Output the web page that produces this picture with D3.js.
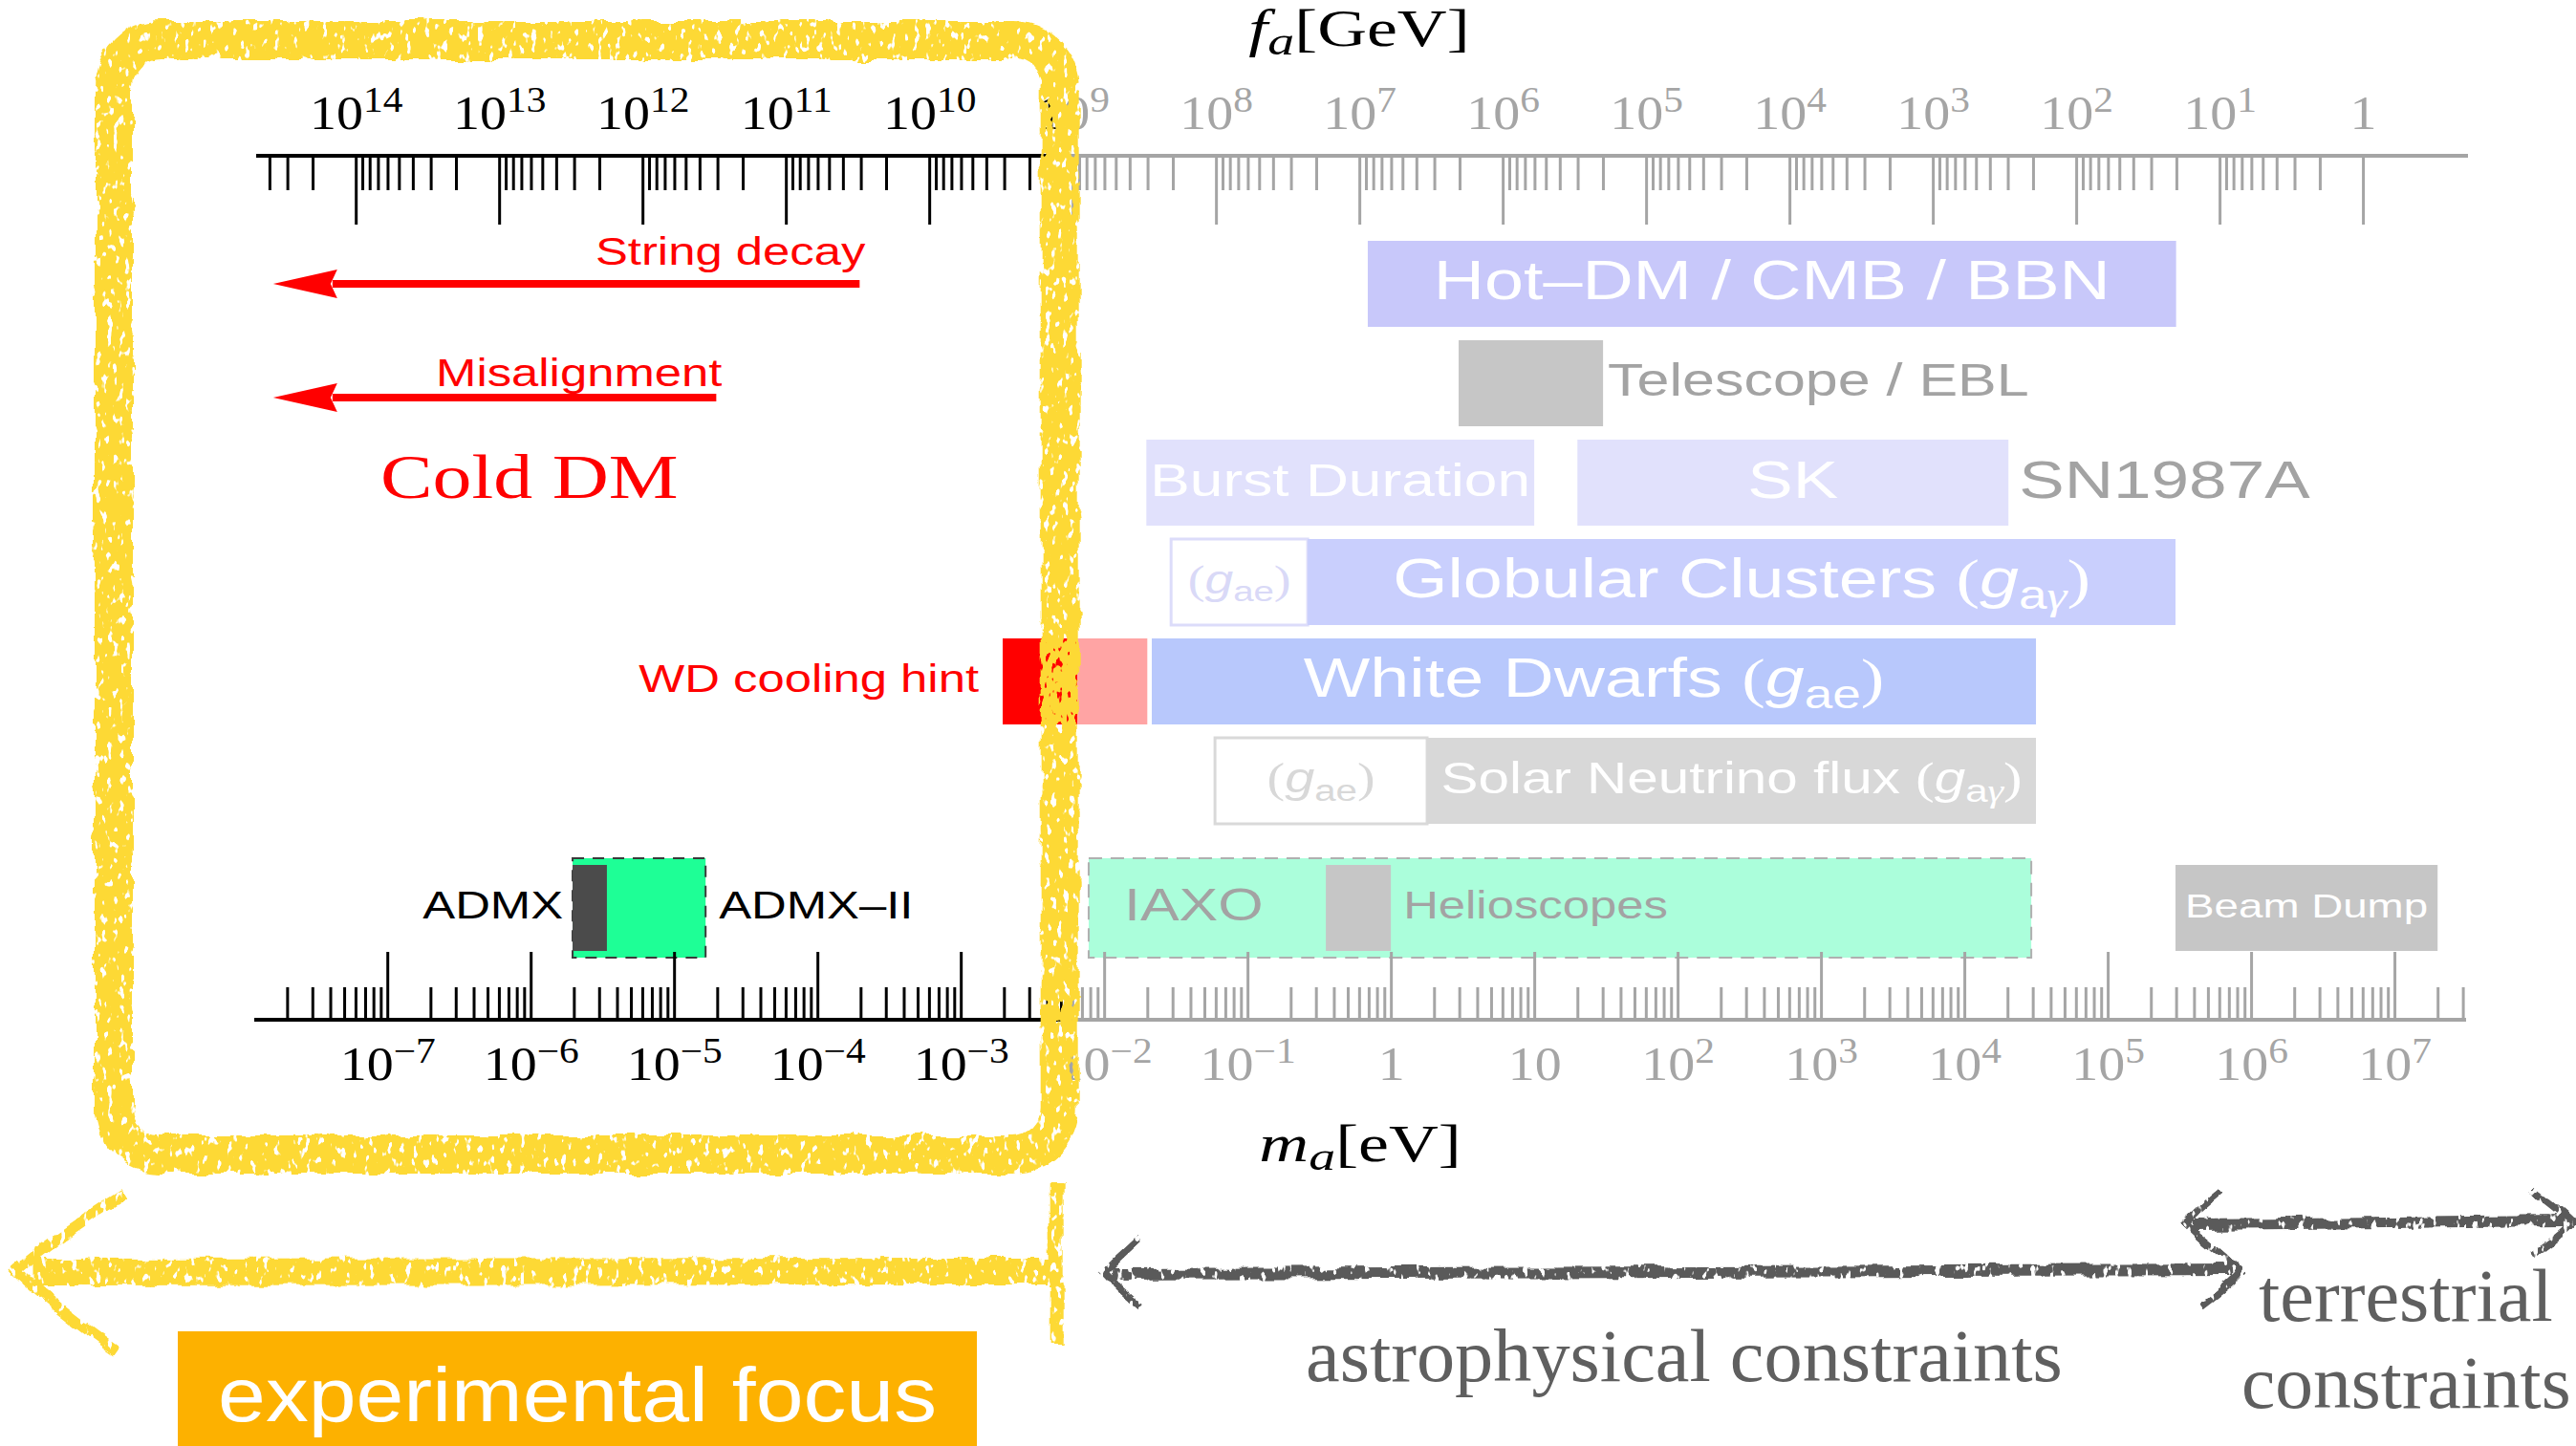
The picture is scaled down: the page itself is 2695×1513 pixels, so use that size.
<!DOCTYPE html>
<html>
<head>
<meta charset="utf-8">
<script src="https://cdn.jsdelivr.net/npm/d3@7"></script>
<style>
  html, body { margin: 0; padding: 0; background: #fff; }
  svg { display: block; }
</style>
</head>
<body>
<script>
const SANS = "'Liberation Sans', Arial, Helvetica, sans-serif";
const SERIF = "'Liberation Serif', 'Times New Roman', serif";
const W = 2695, H = 1513;

// ---------------- data ----------------
// axis extents, left -> right
const faDomain = [4.95e14, 0.185];   // f_a [GeV]
const maDomain = [1.18e-8, 3.16e7];  // m_a [eV]

// decade ticks and labels
const faMajor  = [1e14, 1e13, 1e12, 1e11, 1e10, 1e9, 1e8, 1e7, 1e6, 1e5, 1e4, 1e3, 1e2, 1e1, 1];
const faLabels = ["10^14", "10^13", "10^12", "10^11", "10^10", "10^9", "10^8", "10^7", "10^6",
                  "10^5", "10^4", "10^3", "10^2", "10^1", "1"];
const maMajor  = [1e-7, 1e-6, 1e-5, 1e-4, 1e-3, 1e-2, 1e-1, 1, 1e1, 1e2, 1e3, 1e4, 1e5, 1e6, 1e7];
const maLabels = ["10^−7", "10^−6", "10^−5", "10^−4", "10^−3", "10^−2", "10^−1", "1", "10",
                  "10^2", "10^3", "10^4", "10^5", "10^6", "10^7"];

// constraint rows
const rowNames = ["hot", "tel", "sn", "gc", "wd", "sol"];

// constraint / experiment boxes, mass ranges in eV
const boxNames = ["hotdm", "telescope", "burst", "sk", "gcAe", "gc", "wdHint", "wdHintWeak", "wd",
                  "solarAe", "solar", "admx2", "admx", "iaxo", "helioscopes", "beamdump"];
const boxRows  = ["hot", "tel", "sn", "sn", "gc", "gc", "wd", "wd", "wd",
                  "sol", "sol", "exp", "exp", "exp", "exp", "exp"];
const boxLow   = [0.69, 2.97, 0.0197, 20, 0.0293, 0.263, 1.96e-3, 6.5e-3, 0.0215,
                  0.0593, 1.79, 1.96e-6, 1.96e-6, 7.8e-3, 0.352, 2.97e5];
const boxHigh  = [3.0e5, 30.2, 10, 2.03e4, 0.263, 2.97e5, 6.5e-3, 0.0200, 3.16e4,
                  1.79, 3.16e4, 1.66e-5, 3.4e-6, 2.93e4, 1.0, 2.0e7];
const boxLabels = ["Hot–DM / CMB / BBN", "Telescope / EBL", "Burst Duration", "SK", "(g_ae)",
                   "Globular Clusters (g_aγ)", "", "", "White Dwarfs (g_ae)", "(g_ae)",
                   "Solar Neutrino flux (g_aγ)", "ADMX–II", "ADMX", "IAXO", "Helioscopes", "Beam Dump"];

// cosmological production arrows, m_a in eV
const prodNames = ["String decay", "Misalignment"];
const prodFrom  = [1.97e-4, 1.97e-5];
const prodTo    = [1.6e-8, 1.6e-8];

// regions along the bottom, m_a in eV
const regionNames = ["experimental focus", "astrophysical constraints", "terrestrial constraints"];
const regionLow   = [2.6e-10, 1e-2, 3.5e5];
const regionHigh  = [4.9e-3, 8.6e5, 1.7e8];

// ---------------- styles ----------------
const boxStyle = {
  hotdm:      {fill: "#c8c8fa"},
  telescope:  {fill: "#c6c6c6"},
  burst:      {fill: "#e1e1fc"},
  sk:         {fill: "#e1e1fc"},
  gcAe:       {fill: "#fff", stroke: "#dcdcfa"},
  gc:         {fill: "#c9cffd"},
  wdHint:     {fill: "#ff0000"},
  wdHintWeak: {fill: "#ffa4a4"},
  wd:         {fill: "#b8c8fc"},
  solarAe:    {fill: "#fff", stroke: "#d9d9d9"},
  solar:      {fill: "#d8d8d8"},
  admx2:      {fill: "#1eff96", stroke: "#3a3a3a", dash: "12 9", tall: true},
  admx:       {fill: "#4b4b4b"},
  iaxo:       {fill: "#abfedb", stroke: "#b0b0b0", dash: "14 9", tall: true},
  helioscopes:{fill: "#c6c6c6"},
  beamdump:   {fill: "#c6c6c6"}
};
const labelStyle = {
  hotdm:       {place: "center", size: 58, fill: "#fff"},
  telescope:   {place: "after", gap: 5, size: 48, fill: "#a3a3a3"},
  burst:       {place: "center", size: 49, fill: "#fff"},
  sk:          {place: "center", size: 56, fill: "#fff"},
  gcAe:        {place: "center", size: 42, fill: "#d9d9f7"},
  gc:          {place: "center", size: 58, fill: "#fff"},
  wd:          {place: "center", size: 58, fill: "#fff"},
  solarAe:     {place: "center", size: 44, fill: "#d8d8d8"},
  solar:       {place: "center", size: 46, fill: "#fff"},
  admx2:       {place: "after", gap: 14, size: 40, fill: "#000"},
  admx:        {place: "before", gap: 10, size: 40, fill: "#000"},
  iaxo:        {place: "inside", gap: 37, size: 48, fill: "#a3a3a3"},
  helioscopes: {place: "after", gap: 13, size: 40, fill: "#a3a3a3"},
  beamdump:    {place: "center", size: 36, fill: "#fff"}
};
const LABEL_K = 1.27;     // horizontal stretch of the chart lettering
const GRAY = "#a5a5a5";
const SPLIT_X = 1112;     // where the axes change from black to grey

// ---------------- scales ----------------
const faScale = d3.scaleLog().domain(faDomain).range([268, 2582]);
const maScale = d3.scaleLog().domain(maDomain).range([266, 2580]);

const rowBand = d3.scaleBand().domain(rowNames)
  .range([245, 869]).paddingInner(14 / 104).paddingOuter(7 / 104);
const expBand = d3.scaleBand().domain(["exp"]).range([898, 1002]);

// ---------------- svg ----------------
const svg = d3.select("body").append("svg")
  .attr("width", W).attr("height", H);
svg.append("rect").attr("width", W).attr("height", H).attr("fill", "#fff");

const defs = svg.append("defs");
defs.append("clipPath").attr("id", "clipLeft")
  .append("rect").attr("x", 0).attr("y", 0).attr("width", SPLIT_X).attr("height", H);
defs.append("clipPath").attr("id", "clipRight")
  .append("rect").attr("x", SPLIT_X).attr("y", 0).attr("width", W - SPLIT_X).attr("height", H);

// rough brush look for the hand drawn marks
const brush = defs.append("filter").attr("id", "brush")
  .attr("filterUnits", "userSpaceOnUse")
  .attr("x", 0).attr("y", 0).attr("width", W).attr("height", H);
brush.append("feTurbulence").attr("type", "fractalNoise").attr("baseFrequency", 0.035)
  .attr("numOctaves", 3).attr("seed", 4).attr("result", "n1");
brush.append("feDisplacementMap").attr("in", "SourceGraphic").attr("in2", "n1")
  .attr("scale", 11).attr("xChannelSelector", "R").attr("yChannelSelector", "G").attr("result", "d");
brush.append("feTurbulence").attr("type", "fractalNoise").attr("baseFrequency", "0.16 0.09")
  .attr("numOctaves", 2).attr("seed", 9).attr("result", "n2");
brush.append("feColorMatrix").attr("in", "n2").attr("type", "matrix")
  .attr("values", "0 0 0 0 0  0 0 0 0 0  0 0 0 0 0  -14 0 0 0 9.6").attr("result", "m");
brush.append("feComposite").attr("in", "d").attr("in2", "m").attr("operator", "in");

// text helper: parts are tspans, k stretches the lettering horizontally
function addText(parent, x, y, parts, o) {
  const t = parent.append("text")
    .attr("transform", `translate(${x},${y}) scale(${o.k || 1},1)`)
    .attr("text-anchor", o.anchor || "start")
    .attr("font-family", o.family || SANS)
    .attr("font-size", o.size)
    .attr("fill", o.fill);
  parts.forEach(p => {
    const s = t.append("tspan").text(p.t);
    if (p.italic) s.attr("font-style", "italic");
    if (p.family) s.attr("font-family", p.family);
    if (p.size) s.attr("font-size", p.size);
    if (p.dy) s.attr("dy", p.dy);
  });
  return t;
}

// "Name (g_ae)" -> tspans with italic g and subscript
function labelParts(str, size) {
  const m = str.match(/^(.*?)\(g_(.+)\)$/);
  if (!m) return [{t: str}];
  const out = [];
  if (m[1]) out.push({t: m[1]});
  out.push({t: "(", family: SERIF});
  out.push({t: "g", italic: true});
  const sub = size * 0.72, shift = size * 0.2;
  Array.from(m[2]).forEach((c, i) => {
    const p = {t: c, size: sub};
    if (c === "γ") { p.italic = true; p.family = SERIF; }
    if (i === 0) p.dy = shift;
    out.push(p);
  });
  out.push({t: ")", family: SERIF, dy: -shift});
  return out;
}

// ---------------- boxes ----------------
function boxY(i) {
  const row = boxRows[i];
  if (row === "exp") {
    return boxStyle[boxNames[i]].tall
      ? [expBand("exp"), expBand.bandwidth()]
      : [expBand("exp") + 7, expBand.bandwidth() - 14];
  }
  return [rowBand(row), rowBand.bandwidth()];
}

const boxLayer = svg.append("g");
boxLayer.selectAll("rect")
  .data(d3.range(boxNames.length))
  .join("rect")
  .attr("x", i => maScale(boxLow[i]))
  .attr("width", i => maScale(boxHigh[i]) - maScale(boxLow[i]))
  .attr("y", i => boxY(i)[0])
  .attr("height", i => boxY(i)[1])
  .attr("fill", i => boxStyle[boxNames[i]].fill)
  .attr("stroke", i => boxStyle[boxNames[i]].stroke || "none")
  .attr("stroke-width", i => boxStyle[boxNames[i]].dash ? 2 : 3)
  .attr("stroke-dasharray", i => boxStyle[boxNames[i]].dash || null);

const labelLayer = svg.append("g");
boxNames.forEach((name, i) => {
  const st = labelStyle[name];
  if (!st || !boxLabels[i]) return;
  const x0 = maScale(boxLow[i]), x1 = maScale(boxHigh[i]);
  const [y, h] = boxRows[i] === "exp" ? [expBand("exp"), expBand.bandwidth()] : [rowBand(boxRows[i]), rowBand.bandwidth()];
  const base = y + h / 2 + st.size * 0.28;
  let x, anchor;
  if (st.place === "center") { x = (x0 + x1) / 2; anchor = "middle"; }
  else if (st.place === "after") { x = x1 + st.gap; anchor = "start"; }
  else if (st.place === "before") { x = x0 - st.gap; anchor = "end"; }
  else { x = x0 + st.gap; anchor = "start"; }
  addText(labelLayer, x, base, labelParts(boxLabels[i], st.size),
    {anchor, size: st.size, fill: st.fill, k: LABEL_K});
});

// SN1987A next to the SK box
const skIdx = boxNames.indexOf("sk");
addText(labelLayer, maScale(boxHigh[skIdx]) + 11, rowBand("sn") + rowBand.bandwidth() / 2 + 56 * 0.28,
  [{t: "SN1987A"}], {size: 56, fill: "#a3a3a3", k: LABEL_K});
// WD cooling hint label
const wdIdx = boxNames.indexOf("wdHint");
addText(labelLayer, maScale(boxLow[wdIdx]) - 25, rowBand("wd") + rowBand.bandwidth() / 2 + 40 * 0.28,
  [{t: "WD cooling hint"}], {anchor: "end", size: 40, fill: "#ff0000", k: LABEL_K});

// ---------------- axes ----------------
function minorTicks(scale, k0, k1) {
  const [a, b] = d3.extent(scale.domain());
  const out = [];
  for (let k = k0; k <= k1; k++) for (let m = 2; m <= 9; m++) {
    const v = m * Math.pow(10, k);
    if (v >= a && v <= b) out.push(v);
  }
  return out;
}

function drawAxis(scale, lineY, down, majors, labels, minors, color, clipId) {
  // clip in page coordinates, axis shifted inside
  const g = svg.append("g")
    .attr("clip-path", `url(#${clipId})`)
    .append("g")
    .attr("transform", `translate(0,${lineY})`);
  const tickAxis = down ? d3.axisBottom : d3.axisTop;
  const textAxis = down ? d3.axisTop : d3.axisBottom;
  g.append("g").call(tickAxis(scale).tickValues(minors).tickSize(down ? 36 : 34).tickFormat(""));
  g.append("g").call(tickAxis(scale).tickValues(majors).tickSize(down ? 72 : 71).tickFormat(""));
  const lab = g.append("g").call(textAxis(scale).tickValues(majors).tickSize(0).tickFormat(""));
  g.selectAll(".domain").remove();
  g.selectAll(".tick line").attr("stroke", color).attr("stroke-width", 3);
  g.append("line")
    .attr("x1", scale.range()[0]).attr("x2", scale.range()[1])
    .attr("stroke", color).attr("stroke-width", 4);

  lab.selectAll(".tick text").each(function (d) {
    const s = labels[majors.indexOf(d)];
    const [base, sup] = s.split("^");
    const t = d3.select(this)
      .text(null)
      .attr("y", down ? -28 : 63).attr("dy", null)
      .attr("font-family", SERIF).attr("font-size", 50)
      .attr("fill", color).attr("transform", "scale(1.12,1)");
    t.append("tspan").text(base);
    if (sup) t.append("tspan").text(sup).attr("font-size", 37).attr("dy", -18);
  });
}

const faMinor = minorTicks(faScale, 0, 14);
const maMinor = minorTicks(maScale, -8, 7);
[["#000", "clipLeft"], [GRAY, "clipRight"]].forEach(([c, clip]) => {
  drawAxis(faScale, 163, true, faMajor, faLabels, faMinor, c, clip);
  drawAxis(maScale, 1067, false, maMajor, maLabels, maMinor, c, clip);
});

// axis titles
addText(svg, 1422, 48,
  [{t: "f", italic: true}, {t: "a", italic: true, size: 42, dy: 9}, {t: "[GeV]", dy: -9}],
  {anchor: "middle", family: SERIF, size: 54, fill: "#000", k: 1.33});
addText(svg, 1423, 1215,
  [{t: "m", italic: true}, {t: "a", italic: true, size: 42, dy: 9}, {t: "[eV]", dy: -9}],
  {anchor: "middle", family: SERIF, size: 54, fill: "#000", k: 1.33});

// ---------------- cold dark matter production ----------------
const prodY = [297, 416];
const prodLabelLift = [20, 12];
const red = svg.append("g");
prodNames.forEach((name, i) => {
  const x0 = maScale(prodFrom[i]), xt = maScale(prodTo[i]), y = prodY[i];
  red.append("line")
    .attr("x1", x0).attr("x2", xt + 62).attr("y1", y).attr("y2", y)
    .attr("stroke", "#ff0000").attr("stroke-width", 8);
  red.append("path")
    .attr("d", `M${xt},${y} L${xt + 67},${y - 15} L${xt + 60},${y} L${xt + 67},${y + 15} Z`)
    .attr("fill", "#ff0000");
  addText(red, x0 + 6, y - prodLabelLift[i], [{t: name}],
    {anchor: "end", size: 40, fill: "#ff0000", k: LABEL_K});
});
addText(red, 398, 521, [{t: "Cold DM"}], {family: SERIF, size: 65, fill: "#ff0000", k: 1.26});

// ---------------- highlight and region arrows ----------------
const YELLOW = "#fdd935", DARK = "#5a5a5a";
const hl = svg.append("g").attr("filter", "url(#brush)");
const focusX = maScale(regionHigh[0]);
hl.append("rect")
  .attr("x", 119).attr("y", 42).attr("width", focusX - 119).attr("height", 1166)
  .attr("rx", 48).attr("fill", "none").attr("stroke", YELLOW).attr("stroke-width", 40);

// experimental focus arrow
const yTip = maScale(regionLow[0]);
hl.append("line").attr("x1", focusX - 8).attr("x2", yTip + 18).attr("y1", 1330).attr("y2", 1331)
  .attr("stroke", YELLOW).attr("stroke-width", 28);
hl.append("path")
  .attr("d", `M${yTip + 112},1250 Q${yTip + 40},1295 ${yTip},1330 Q${yTip + 40},1368 ${yTip + 104},1413`)
  .attr("fill", "none").attr("stroke", YELLOW).attr("stroke-width", 11);
hl.append("line").attr("x1", focusX - 3).attr("x2", focusX - 3).attr("y1", 1238).attr("y2", 1408)
  .attr("stroke", YELLOW).attr("stroke-width", 14);

// astrophysical and terrestrial double arrows
function doubleArrow(x0, x1, y, half) {
  hl.append("line").attr("x1", x0 + 8).attr("x2", x1 - 8).attr("y1", y + 2).attr("y2", y - 2)
    .attr("stroke", DARK).attr("stroke-width", 12);
  hl.append("path")
    .attr("d", `M${x0 + 38},${y - half} Q${x0 + 12},${y - 12} ${x0},${y} Q${x0 + 12},${y + 14} ${x0 + 38},${y + half}`)
    .attr("fill", "none").attr("stroke", DARK).attr("stroke-width", 8);
  hl.append("path")
    .attr("d", `M${x1 - 42},${y - half} Q${x1 - 12},${y - 12} ${x1},${y} Q${x1 - 12},${y + 14} ${x1 - 42},${y + half}`)
    .attr("fill", "none").attr("stroke", DARK).attr("stroke-width", 8);
}
doubleArrow(maScale(regionLow[1]), maScale(regionHigh[1]), 1331, 36);
doubleArrow(maScale(regionLow[2]), Math.min(maScale(regionHigh[2]), W - 5), 1279, 34);

const notes = svg.append("g");
addText(notes, 1366, 1445, [{t: "astrophysical constraints"}],
  {family: SERIF, size: 78, fill: "#5f5f5f", k: 1.03});
addText(notes, 2363, 1382, [{t: "terrestrial"}],
  {family: SERIF, size: 78, fill: "#5f5f5f", k: 1.03});
addText(notes, 2345, 1473, [{t: "constraints"}],
  {family: SERIF, size: 78, fill: "#5f5f5f", k: 1.02});

notes.append("rect").attr("x", 186).attr("y", 1393).attr("width", 836).attr("height", 120)
  .attr("fill", "#fdb100");
addText(notes, 604, 1487, [{t: regionNames[0]}],
  {anchor: "middle", size: 80, fill: "#fff", k: 1.12});
</script>
</body>
</html>
